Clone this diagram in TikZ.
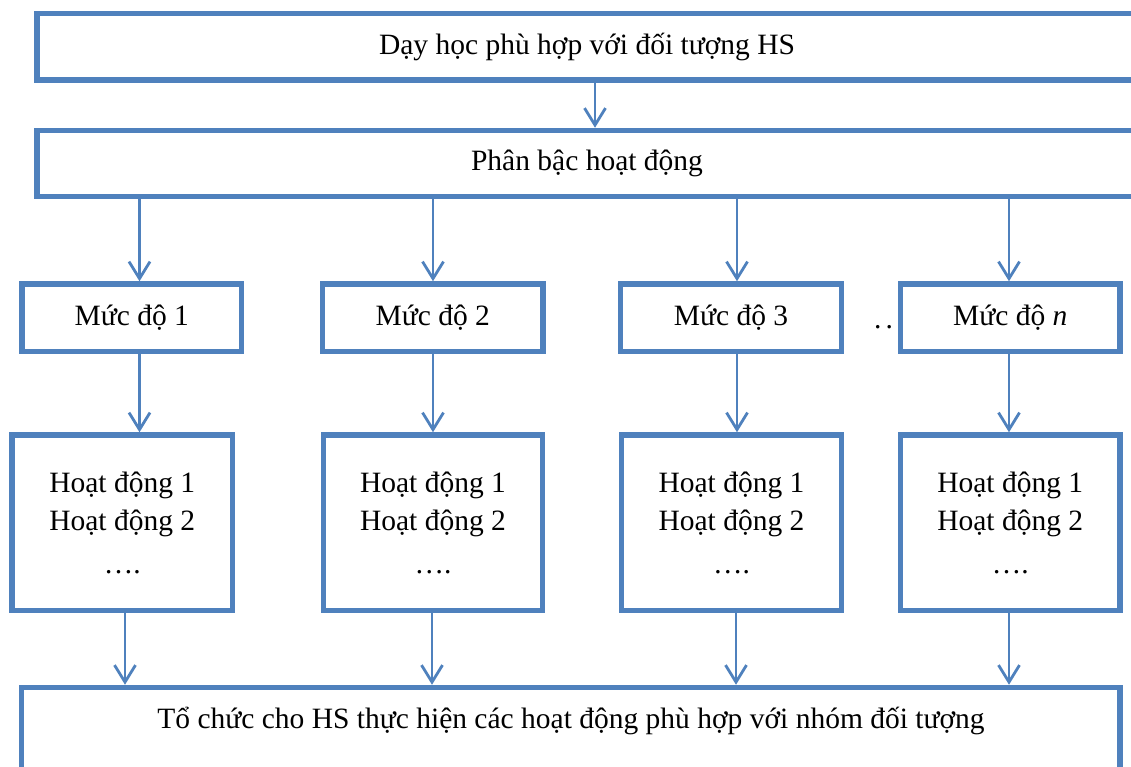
\documentclass[tikz,border=0pt]{standalone}
\usepackage{fontspec}
\setmainfont{Liberation Serif}
\usetikzlibrary{arrows.meta}
\definecolor{boxblue}{HTML}{4F81BD}
\begin{document}
\begin{tikzpicture}[x=1pt,y=-1pt,
  box/.style={draw=boxblue, line width=5.5pt, rectangle, inner sep=0pt,
    font=\fontsize{29.5}{38.4}\selectfont, align=center},
  arr/.style={draw=boxblue, line width=2.8pt, -{Straight Barb[length=17pt,width=21pt]}},
  txt/.style={inner sep=0pt, font=\fontsize{29.5}{38.4}\selectfont}]
\useasboundingbox (0,0) rectangle (1131,766);
\clip (0,0) rectangle (1131,766);
% top boxes
\node[box, minimum width=1100, minimum height=66.5] (top) at (587,46.75) {Dạy học phù hợp với đối tượng HS};
\node[box, minimum width=1100, minimum height=66] (phan) at (587,163.5) {Phân bậc hoạt động};
% levels
\node[box, minimum width=219.5, minimum height=67.5] (m1) at (131.75,317.75) {Mức độ 1};
\node[box, minimum width=220.5, minimum height=67.5] (m2) at (432.75,317.75) {Mức độ 2};
\node[box, minimum width=221, minimum height=67.5] (m3) at (731,317.75) {Mức độ 3};
\node[box, minimum width=219.5, minimum height=67.5] (mn) at (1010.25,317.75) {Mức độ \textit{n}};
\node[txt, anchor=base] (dd) at (883.5,328) {.\kern4.2pt.};
% activities
\node[box, minimum width=220.5, minimum height=175.5] (h1) at (122.25,522.75) {Hoạt động 1\\Hoạt động 2\\[4.5pt]….};
\node[box, minimum width=219, minimum height=175.5] (h2) at (433,522.75) {Hoạt động 1\\Hoạt động 2\\[4.5pt]….};
\node[box, minimum width=220, minimum height=175.5] (h3) at (731.5,522.75) {Hoạt động 1\\Hoạt động 2\\[4.5pt]….};
\node[box, minimum width=219.5, minimum height=175.5] (hn) at (1010.25,522.75) {Hoạt động 1\\Hoạt động 2\\[4.5pt]….};
% bottom
\node[box, minimum width=1098.5, minimum height=160] (bot) at (570.75,767.5) {};
\node[txt, anchor=base] (bottxt) at (571,728) {Tổ chức cho HS thực hiện các hoạt động phù hợp với nhóm đối tượng};
% arrow x positions
\coordinate (xa) at (595,0);
\coordinate (x1) at (139.5,0);
\coordinate (x2) at (433,0);
\coordinate (x3) at (737,0);
\coordinate (x4) at (1009,0);
\coordinate (b1) at (125,0);
\coordinate (b2) at (432,0);
\coordinate (b3) at (736,0);
\coordinate (b4) at (1009,0);
% arrows
\draw[arr] (top.south -| xa) -- (phan.north -| xa);
\draw[arr] (phan.south -| x1) -- (m1.north -| x1);
\draw[arr] (phan.south -| x2) -- (m2.north -| x2);
\draw[arr] (phan.south -| x3) -- (m3.north -| x3);
\draw[arr] (phan.south -| x4) -- (mn.north -| x4);
\draw[arr] (m1.south -| x1) -- (h1.north -| x1);
\draw[arr] (m2.south -| x2) -- (h2.north -| x2);
\draw[arr] (m3.south -| x3) -- (h3.north -| x3);
\draw[arr] (mn.south -| x4) -- (hn.north -| x4);
\draw[arr] (h1.south -| b1) -- (bot.north -| b1);
\draw[arr] (h2.south -| b2) -- (bot.north -| b2);
\draw[arr] (h3.south -| b3) -- (bot.north -| b3);
\draw[arr] (hn.south -| b4) -- (bot.north -| b4);
\end{tikzpicture}
\end{document}
